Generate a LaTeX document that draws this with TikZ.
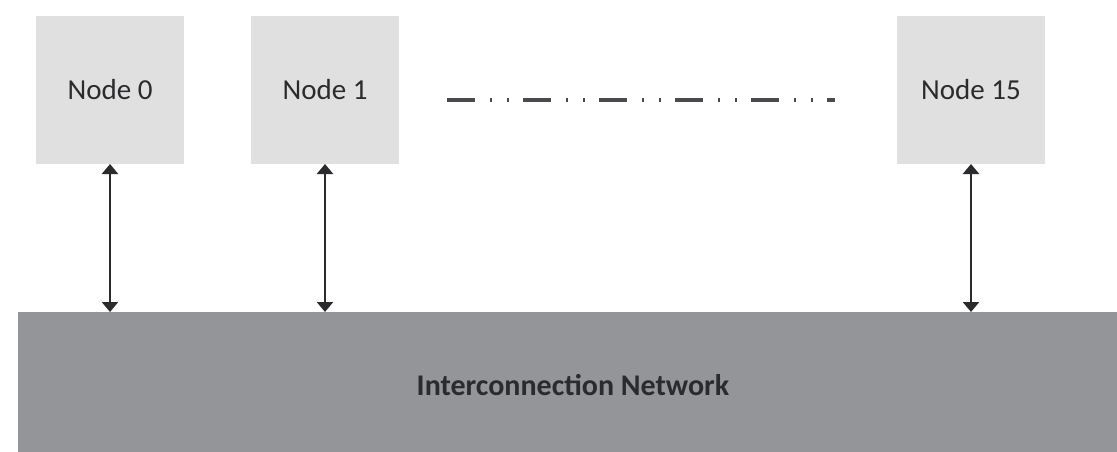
\documentclass[tikz,border=0pt]{standalone}
\usepackage{fontspec}
\setmainfont{Carlito}
\usetikzlibrary{arrows.meta}
\definecolor{boxfill}{HTML}{E0E0E0}
\definecolor{netfill}{HTML}{939598}
\definecolor{ink}{HTML}{2B2B2E}
\begin{document}
\begin{tikzpicture}[x=1pt,y=-1pt,
  nodebox/.style={rectangle,fill=boxfill,draw=none,minimum width=148pt,minimum height=148pt,
    inner sep=0pt,outer sep=0pt,font=\fontsize{29}{34}\selectfont,text=ink},
  netbox/.style={rectangle,fill=netfill,draw=none,minimum width=1099pt,minimum height=140pt,
    inner sep=0pt,outer sep=0pt},
  netlabel/.style={font=\fontsize{30}{36}\selectfont\bfseries,text=ink,inner sep=0pt},
  link/.style={draw=ink,line width=2.5pt,
    {Triangle[width=16pt,length=10pt]}-{Triangle[width=16pt,length=10pt]}},
  ellipsisline/.style={draw=ink!85,line width=3pt,
    dash pattern=on 28pt off 15pt on 2pt off 15pt on 2pt off 14pt}]
  \useasboundingbox (0,0) rectangle (1117,452);

  % processing nodes
  \node[nodebox] (n0)  at (110,90) {Node 0};
  \node[nodebox] (n1)  at (325,90) {Node 1};
  \node[nodebox] (n15) at (971,90) {Node 15};

  % shared interconnection network
  \node[netbox] (net) at (567.5,382) {};
  \node[netlabel] (netname) at (573,385) {Interconnection Network};

  % bidirectional links between nodes and network
  \draw[link] (n0.south)  -- (n0.south  |- net.north);
  \draw[link] (n1.south)  -- (n1.south  |- net.north);
  \draw[link] (n15.south) -- (n15.south |- net.north);

  % ellipsis for the omitted nodes
  \coordinate (gapL) at (447,100);
  \coordinate (gapR) at (835,100);
  \draw[ellipsisline] (gapL) -- (gapR);
\end{tikzpicture}
\end{document}
